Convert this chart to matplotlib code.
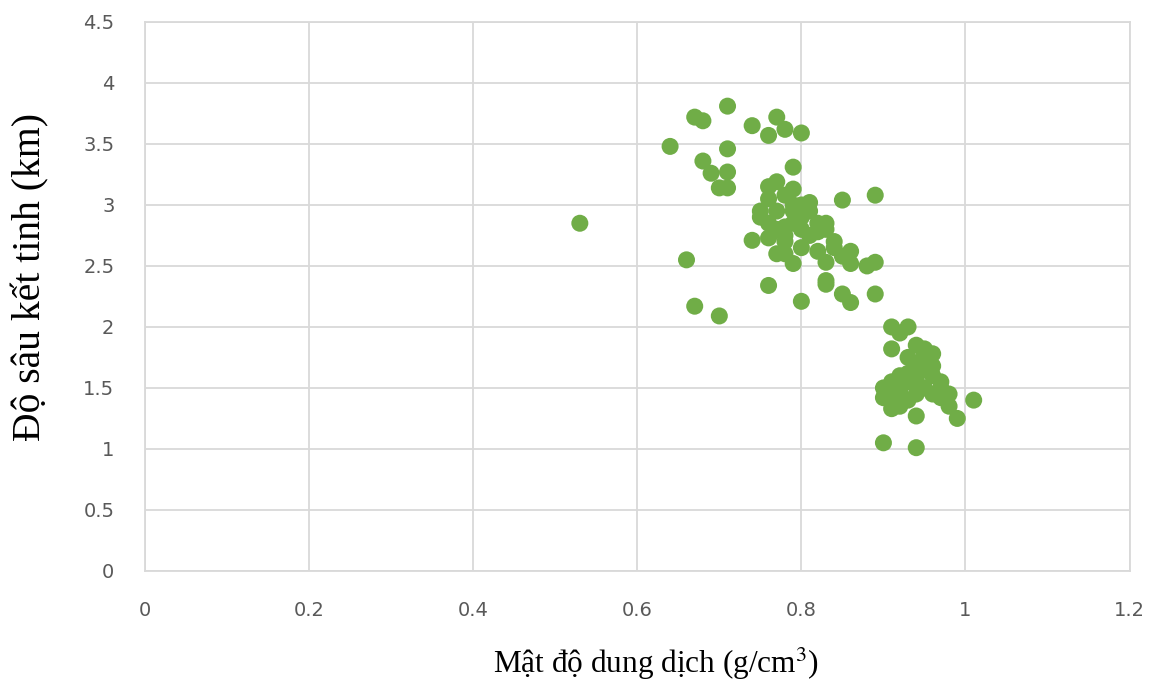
import matplotlib
matplotlib.use("Agg")
import matplotlib.pyplot as plt

plt.rcParams["mathtext.fontset"] = "stix"

density = [
    0.53, 0.64, 0.67, 0.68, 0.71, 0.74, 0.77, 0.78, 0.80, 0.76,
    0.71, 0.68, 0.69, 0.71, 0.70, 0.71, 0.79, 0.66, 0.67, 0.70,
    0.74, 0.76, 0.80, 0.85, 0.89, 0.83, 0.83, 0.85, 0.86, 0.89,
    0.88, 0.89, 0.86, 0.86, 0.83,
    0.76, 0.77, 0.78, 0.79, 0.75, 0.75, 0.76, 0.77, 0.78, 0.79,
    0.80, 0.80, 0.81, 0.81, 0.82, 0.82, 0.81, 0.83, 0.83, 0.84,
    0.84, 0.79, 0.78, 0.77, 0.76, 0.78, 0.79, 0.80, 0.77, 0.76,
    0.80, 0.82, 0.85, 0.78, 0.79,
    0.91, 0.93, 0.92, 0.94, 0.95, 0.96, 0.91, 0.93, 0.94, 0.95,
    0.96, 0.97, 0.97, 0.98, 0.97, 0.98, 0.99, 1.01, 0.90, 0.90,
    0.91, 0.91, 0.92, 0.91, 0.92, 0.93, 0.94, 0.94, 0.90, 0.94,
    0.95, 0.96, 0.94, 0.95, 0.96, 0.92, 0.93, 0.93, 0.95, 0.92,
]
depth = [
    2.85, 3.48, 3.72, 3.69, 3.81, 3.65, 3.72, 3.62, 3.59, 3.57,
    3.46, 3.36, 3.26, 3.27, 3.14, 3.14, 3.31, 2.55, 2.17, 2.09,
    2.71, 2.34, 2.21, 3.04, 3.08, 2.35, 2.38, 2.27, 2.20, 2.27,
    2.50, 2.53, 2.62, 2.52, 2.53,
    3.15, 3.19, 3.08, 3.13, 2.95, 2.90, 2.85, 2.80, 2.75, 2.95,
    2.90, 3.00, 2.95, 3.02, 2.85, 2.78, 2.75, 2.80, 2.85, 2.70,
    2.65, 2.52, 2.60, 2.60, 2.73, 2.82, 2.85, 2.80, 2.95, 3.05,
    2.65, 2.62, 2.58, 2.70, 3.00,
    2.00, 2.00, 1.95, 1.85, 1.82, 1.78, 1.82, 1.75, 1.70, 1.65,
    1.60, 1.55, 1.50, 1.45, 1.42, 1.35, 1.25, 1.40, 1.50, 1.42,
    1.55, 1.45, 1.38, 1.33, 1.60, 1.55, 1.45, 1.27, 1.05, 1.01,
    1.72, 1.68, 1.58, 1.50, 1.45, 1.48, 1.40, 1.62, 1.78, 1.35,
]

x_ticks = [0, 0.2, 0.4, 0.6, 0.8, 1, 1.2]
y_ticks = [0, 0.5, 1, 1.5, 2, 2.5, 3, 3.5, 4, 4.5]

fig = plt.figure(figsize=(11.55, 6.87), dpi=100)
ax = fig.add_axes([0.1255, 0.169, 0.8525, 0.799])
ax.scatter(density, depth, s=150, color="#70AD47", edgecolors="none", zorder=3)

ax.set_xlim(0, 1.2)
ax.set_ylim(0, 4.5)
ax.set_xticks(x_ticks)
ax.set_xticklabels(["0", "0.2", "0.4", "0.6", "0.8", "1", "1.2"])
ax.set_yticks(y_ticks)
ax.set_yticklabels(["0", "0.5", "1", "1.5", "2", "2.5", "3", "3.5", "4", "4.5"])
ax.grid(True, color="#d9d9d9", linewidth=1.3, zorder=0)
for s in ax.spines.values():
    s.set_color("#d9d9d9")
    s.set_linewidth(1.3)
ax.tick_params(length=0, labelsize=14, labelcolor="#595959")
ax.tick_params(axis="x", pad=22)
ax.tick_params(axis="y", pad=22)

fig.text(0.568, 0.034, "Mật độ dung dịch (g/cm$^{3}$)", family="Liberation Serif",
         fontsize=22.5, ha="center", va="center")
fig.text(0.026, 0.597, "Độ sâu kết tinh (km)", family="Liberation Serif",
         fontsize=28.5, ha="center", va="center", rotation=90)

fig.savefig("out.png", dpi=100)
